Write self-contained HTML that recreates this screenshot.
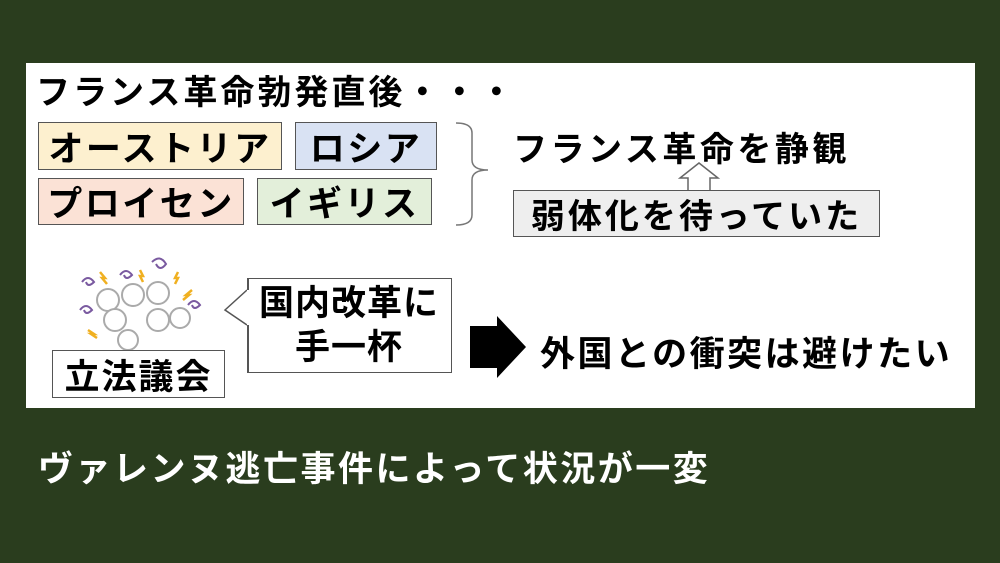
<!DOCTYPE html>
<html><head><meta charset="utf-8"><style>
body{margin:0;width:1000px;height:563px;background:#2a3d1e;position:relative;overflow:hidden;font-family:"Liberation Sans","Noto Sans CJK JP",sans-serif;font-weight:bold;color:#000}
.a{position:absolute;box-sizing:border-box;white-space:nowrap}
.b{border:1.5px solid #555;display:flex;align-items:center;justify-content:center;font-size:35px;letter-spacing:2.5px}
</style></head><body>
<div class="a" style="left:26px;top:63px;width:949px;height:345px;background:#fff"></div>
<div class="a" style="left:36px;top:65px;font-size:34px;letter-spacing:3px">フランス革命勃発直後・・・</div>
<div class="a b" style="left:38px;top:122px;width:244px;height:48px;background:#fdf0cf">オーストリア</div>
<div class="a b" style="left:295px;top:122px;width:142px;height:48px;background:#d9e2f3">ロシア</div>
<div class="a b" style="left:38px;top:178px;width:206px;height:47px;background:#fbe2d6">プロイセン</div>
<div class="a b" style="left:257px;top:178px;width:175px;height:47px;background:#e3efda">イギリス</div>
<svg class="a" style="left:0;top:0" width="1000" height="563">
<path d="M456,123 Q472,123 472,133 L472,160 Q472,170 488,170 Q472,170 472,180 L472,215 Q472,225 456,225" fill="none" stroke="#777" stroke-width="1.5"/>
<path d="M688,190 L688,178 L680,178 L699,163 L718,178 L710,178 L710,190" fill="#fff" stroke="#666" stroke-width="1.5"/>
<path d="M470,326 L497,326 L497,316 L526,347 L497,378 L497,368 L470,368 Z" fill="#000"/>
<g stroke="#aaa" stroke-width="2" fill="#fff">
<circle cx="108" cy="300" r="11"/><circle cx="133" cy="295" r="11"/><circle cx="158" cy="293" r="11"/><circle cx="115" cy="320" r="11"/><circle cx="158" cy="320" r="11"/><circle cx="128" cy="340" r="10"/><circle cx="180" cy="318" r="10"/>
</g>
<g fill="none" stroke="#7a5aa0" stroke-width="2">
<path d="M82,282 q6,-8 12,0 q-6,6 -8,0"/><path d="M120,275 q6,-8 12,0 q-6,6 -8,0"/><path d="M152,262 q8,-8 14,2 q-6,8 -10,0"/><path d="M80,310 q6,-8 12,0 q-6,6 -8,0"/><path d="M188,305 q6,-8 12,0 q-6,6 -8,0"/>
</g>
<g stroke="#f0b020" stroke-width="2.5" fill="none">
<path d="M100,272 l5,6 l-3,0 l5,6"/><path d="M140,270 l3,6 l-3,0 l3,6"/><path d="M178,272 l-3,6 l3,0 l-3,6"/><path d="M192,290 l-6,5 l3,0 l-6,5"/><path d="M88,330 l6,4 l-3,0 l6,4"/>
</g>
<path d="M247,290 L225,310 L247,325" fill="#fff" stroke="#555" stroke-width="1.5"/>
</svg>
<div class="a" style="left:513px;top:122px;font-size:34px;letter-spacing:3.5px">フランス革命を静観</div>
<div class="a b" style="left:513px;top:190px;width:367px;height:47px;background:#eee;font-size:34px;letter-spacing:3px">弱体化を待っていた</div>
<div class="a b" style="left:52px;top:350px;width:173px;height:48px;background:#fff;font-size:35px;letter-spacing:2px">立法議会</div>
<div class="a" style="left:247px;top:278px;width:205px;height:95px;background:#fff;border:1.5px solid #555;border-left:none;font-size:35px;line-height:44px;text-align:center;letter-spacing:1px;padding-top:3px">国内改革に<br>手一杯</div>
<div class="a" style="left:247px;top:278px;width:1.5px;height:12px;background:#555"></div>
<div class="a" style="left:247px;top:325px;width:1.5px;height:48px;background:#555"></div>
<div class="a" style="left:540px;top:326px;font-size:35px;letter-spacing:2.5px">外国との衝突は避けたい</div>
<div class="a" style="left:38px;top:441px;font-size:35px;color:#fff;letter-spacing:2.5px">ヴァレンヌ逃亡事件によって状況が一変</div>
</body></html>
